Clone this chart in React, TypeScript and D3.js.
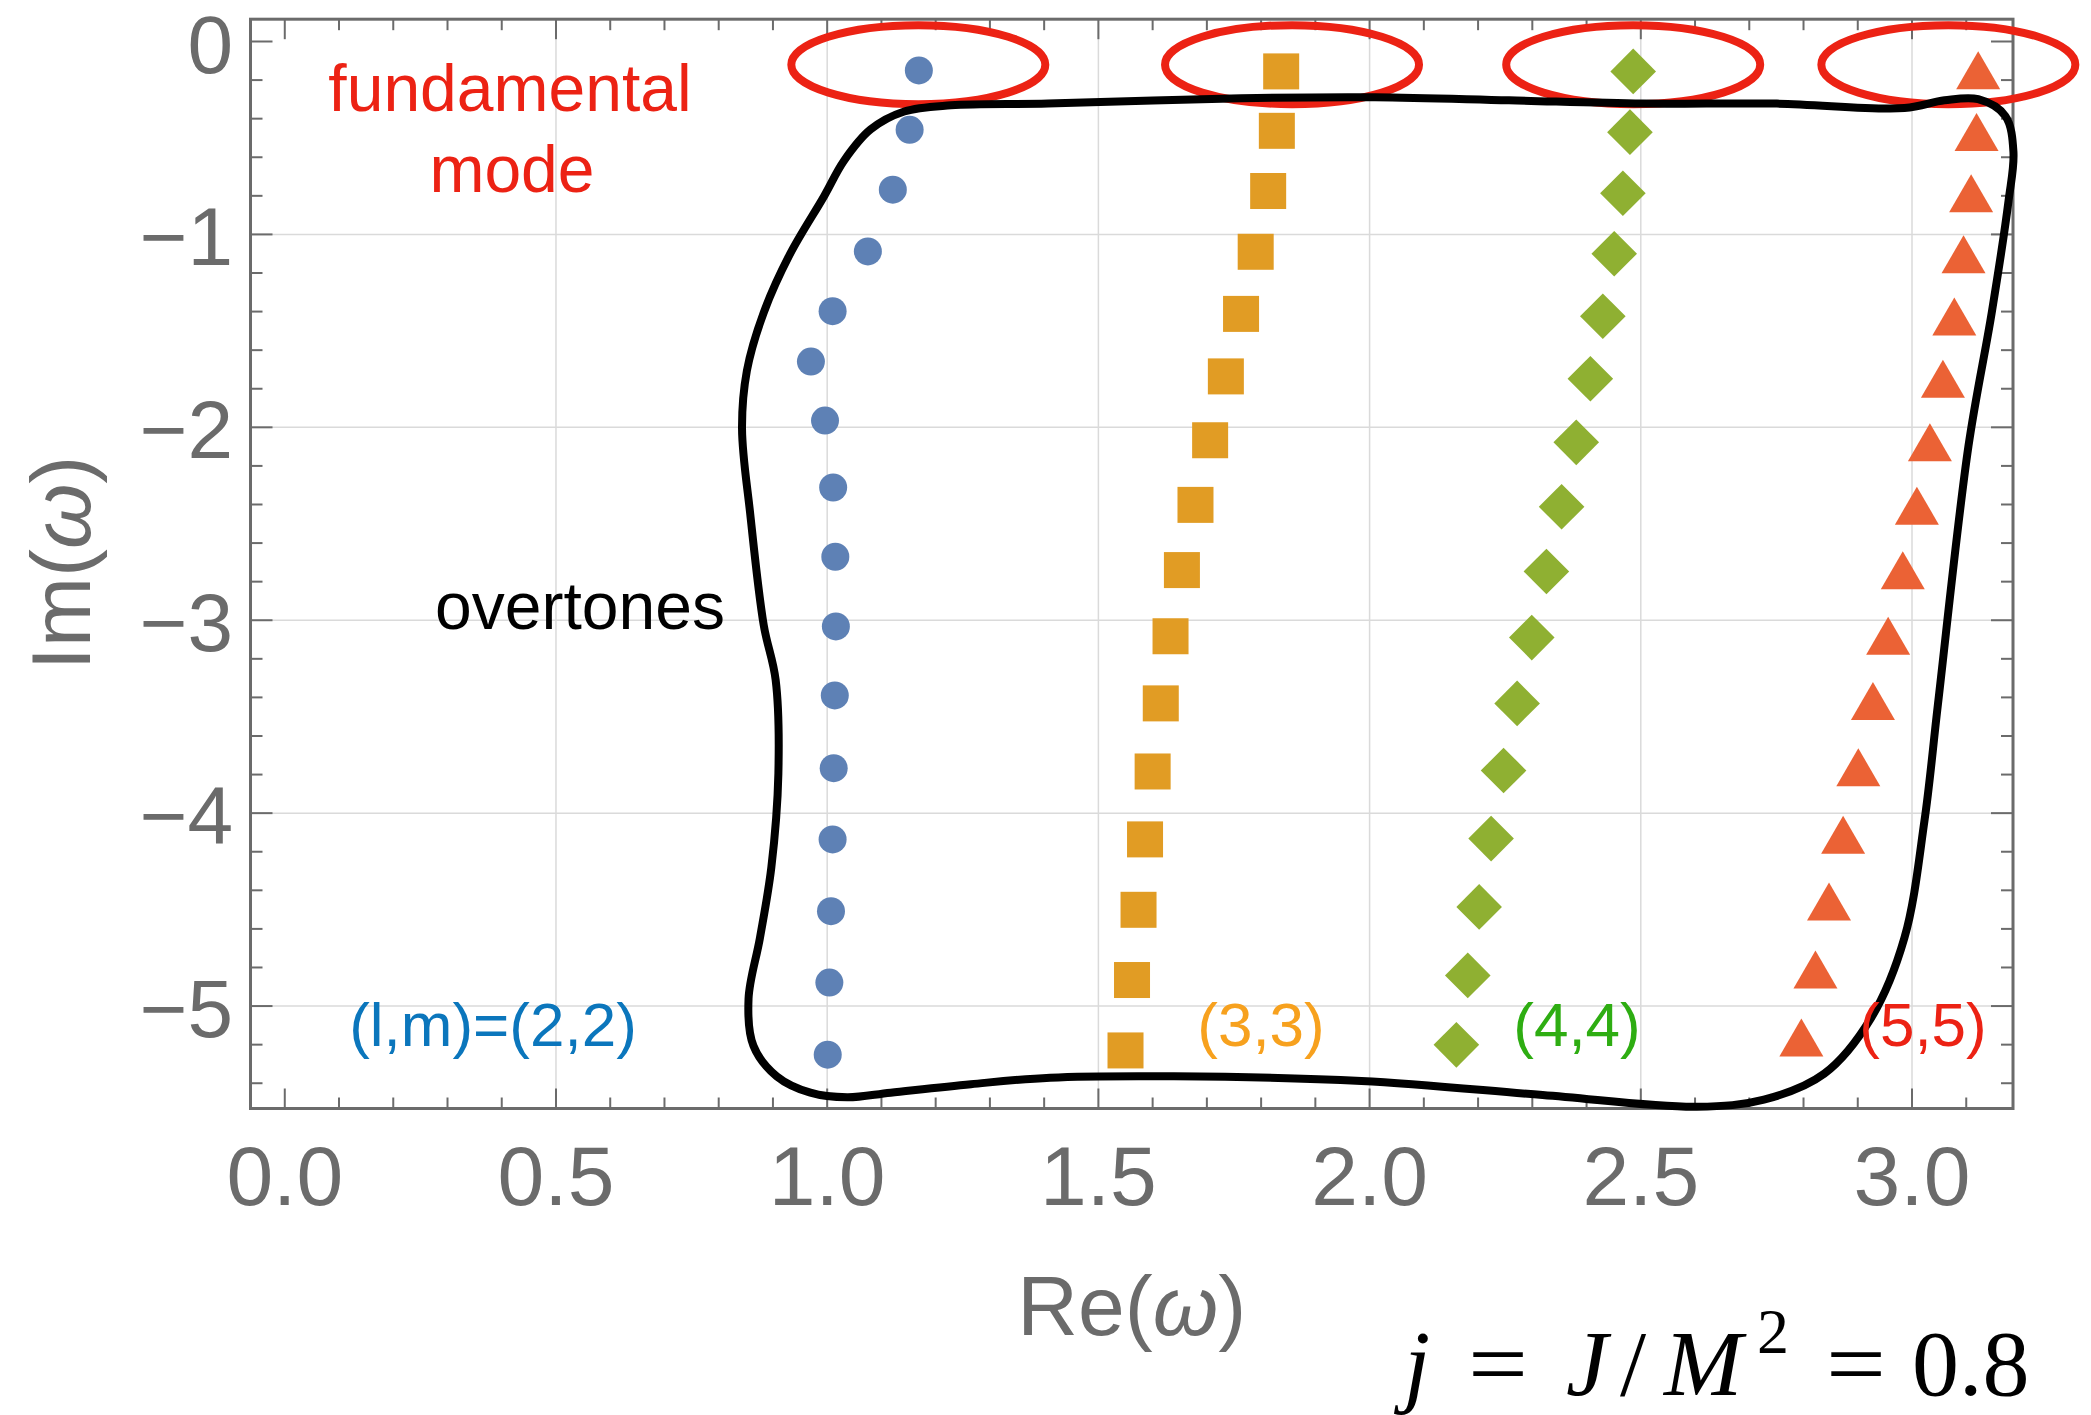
import React from "react";
import * as d3 from "d3";

// Quasinormal mode frequencies (units 2M = 1), j = 0.8, overtones n = 0..15
const re22 = [1.169, 1.152, 1.121, 1.075, 1.01, 0.97, 0.996, 1.011, 1.015, 1.016, 1.014, 1.012, 1.01, 1.007, 1.004, 1.001];
const im22 = [-0.15, -0.458, -0.768, -1.088, -1.398, -1.659, -1.965, -2.312, -2.671, -3.032, -3.39, -3.767, -4.136, -4.508, -4.878, -5.252];
const re33 = [1.837, 1.829, 1.813, 1.79, 1.763, 1.735, 1.706, 1.679, 1.654, 1.633, 1.615, 1.6, 1.586, 1.574, 1.562, 1.55];
const im33 = [-0.155, -0.463, -0.775, -1.09, -1.412, -1.736, -2.067, -2.402, -2.74, -3.083, -3.431, -3.784, -4.136, -4.501, -4.865, -5.23];
const re44 = [2.486, 2.48, 2.467, 2.451, 2.43, 2.407, 2.381, 2.354, 2.326, 2.299, 2.272, 2.247, 2.224, 2.202, 2.181, 2.16];
const im44 = [-0.155, -0.47, -0.787, -1.1, -1.424, -1.748, -2.078, -2.412, -2.747, -3.09, -3.431, -3.779, -4.132, -4.486, -4.841, -5.201];
const re55 = [3.122, 3.119, 3.109, 3.095, 3.078, 3.057, 3.033, 3.009, 2.983, 2.956, 2.928, 2.901, 2.873, 2.847, 2.822, 2.796];
const im55 = [-0.149, -0.469, -0.786, -1.103, -1.425, -1.748, -2.077, -2.406, -2.741, -3.081, -3.419, -3.762, -4.112, -4.458, -4.811, -5.163];

const xTicks = [0, 0.5, 1.0, 1.5, 2.0, 2.5, 3.0];
const yTicks = [0, -1, -2, -3, -4, -5];

// fundamental-mode highlight ellipses (centre in data units)
const ellipseRe = [1.168, 1.857, 2.486, 3.067];
const ellipseIm = -0.12;

// hand-drawn outline around the overtones (Re, Im)
const overtoneLoop: [number, number][] = [
  [1.407, -0.322], [1.228, -0.331], [1.142, -0.363], [1.08, -0.456], [1.031, -0.618],
  [0.994, -0.803], [0.931, -1.104], [0.883, -1.405], [0.852, -1.706], [0.843, -2.007],
  [0.858, -2.446], [0.883, -3.025], [0.905, -3.31], [0.91, -3.796], [0.897, -4.282],
  [0.876, -4.647], [0.855, -4.963], [0.864, -5.206], [0.907, -5.364], [0.969, -5.449],
  [1.037, -5.473], [1.117, -5.449], [1.265, -5.405], [1.411, -5.371], [1.639, -5.364],
  [1.985, -5.388], [2.319, -5.461], [2.603, -5.522], [2.727, -5.485], [2.838, -5.351],
  [2.925, -5.06], [2.986, -4.647], [3.023, -4.039], [3.048, -3.431], [3.104, -2.099],
  [3.147, -1.405], [3.178, -0.826], [3.187, -0.572], [3.172, -0.386], [3.122, -0.299],
  [3.06, -0.305], [2.986, -0.345], [2.751, -0.322], [2.504, -0.322], [2.257, -0.305],
  [2.01, -0.289], [1.763, -0.294],
];

const W = 2091;
const H = 1415;
const L = 250.5, R = 2013, T = 19.2, B = 1108.5;

const x = d3.scaleLinear().domain([-0.0632, 3.1862]).range([L, R]);
const y = d3.scaleLinear().domain([-5.531, 0.1156]).range([B, T]);

const axisColor = "#6b6b6b";
const gridColor = "#dadada";
const sans = "'Liberation Sans', Arial, Helvetica, sans-serif";
const serif = "'Liberation Serif', 'Times New Roman', serif";

const xMinor = d3.range(0, 3.15, 0.1);
const yMinor = d3.range(0, -5.45, -0.2);

const zip = (a: number[], b: number[]) => a.map((v, i) => [v, b[i]] as [number, number]);

export default function App() {
  const loopPath = d3
    .line<[number, number]>()
    .x((d) => x(d[0]))
    .y((d) => y(d[1]))
    .curve(d3.curveCatmullRomClosed.alpha(0.5))(overtoneLoop) as string;

  const sq = 36;
  const dia = 22.8;
  const triW = 44, triH = 38;

  return (
    <svg
      width={W}
      height={H}
      viewBox={`0 0 ${W} ${H}`}
      style={{ position: "absolute", left: 0, top: 0, background: "#fff" }}
    >
      <rect width={W} height={H} fill="#fff" />
      {/* grid */}
      {xTicks.filter((t) => t > 0).map((t) => (
        <line key={"gx" + t} x1={x(t)} x2={x(t)} y1={T} y2={B} stroke={gridColor} strokeWidth={1.5} />
      ))}
      {yTicks.filter((t) => t < 0).map((t) => (
        <line key={"gy" + t} x1={L} x2={R} y1={y(t)} y2={y(t)} stroke={gridColor} strokeWidth={1.5} />
      ))}

      {/* ticks */}
      {xMinor.map((t, i) => {
        const major = i % 5 === 0;
        const len = major ? 20 : 11;
        return (
          <g key={"tx" + i}>
            <line x1={x(t)} x2={x(t)} y1={B} y2={B - len} stroke={axisColor} strokeWidth={2} />
            <line x1={x(t)} x2={x(t)} y1={T} y2={T + len} stroke={axisColor} strokeWidth={2} />
          </g>
        );
      })}
      {yMinor.map((t, i) => {
        const major = i % 5 === 0;
        const len = major ? 22 : 12;
        return (
          <g key={"ty" + i}>
            <line x1={L} x2={L + len} y1={y(t)} y2={y(t)} stroke={axisColor} strokeWidth={2} />
            <line x1={R} x2={R - len} y1={y(t)} y2={y(t)} stroke={axisColor} strokeWidth={2} />
          </g>
        );
      })}
      <rect x={L} y={T} width={R - L} height={B - T} fill="none" stroke={axisColor} strokeWidth={3} />

      {/* tick labels */}
      {xTicks.map((t) => (
        <text key={"lx" + t} x={x(t)} y={1205} textAnchor="middle" fontFamily={sans} fontSize={84} fill={axisColor}>
          {t.toFixed(1)}
        </text>
      ))}
      {yTicks.map((t) => (
        <text key={"ly" + t} x={233} y={y(t) + 31} textAnchor="end" fontFamily={sans} fontSize={82} fill={axisColor}>
          {t === 0 ? "0" : "\u2212" + Math.abs(t)}
        </text>
      ))}

      {/* axis titles */}
      <text x={(L + R) / 2} y={1335} textAnchor="middle" fontFamily={sans} fontSize={84} fill={axisColor}>
        Re(<tspan fontStyle="italic">ω</tspan>)
      </text>
      <text
        transform={`translate(90, 563) rotate(-90)`}
        textAnchor="middle"
        fontFamily={sans}
        fontSize={84}
        fill={axisColor}
      >
        Im(<tspan fontStyle="italic">ω</tspan>)
      </text>

      {/* (2,2) circles */}
      {zip(re22, im22).map(([a, b], i) => (
        <circle key={"c" + i} cx={x(a)} cy={y(b)} r={14} fill="#5E81B5" />
      ))}
      {/* (3,3) squares */}
      {zip(re33, im33).map(([a, b], i) => (
        <rect key={"s" + i} x={x(a) - sq / 2} y={y(b) - sq / 2} width={sq} height={sq} fill="#E19C24" />
      ))}
      {/* (4,4) diamonds */}
      {zip(re44, im44).map(([a, b], i) => (
        <path
          key={"d" + i}
          transform={`translate(${x(a)},${y(b)})`}
          d={`M0,${-dia}L${dia},0L0,${dia}L${-dia},0Z`}
          fill="#8FB032"
        />
      ))}
      {/* (5,5) triangles */}
      {zip(re55, im55).map(([a, b], i) => (
        <path
          key={"t" + i}
          transform={`translate(${x(a)},${y(b)})`}
          d={`M0,${-triH / 2}L${triW / 2},${triH / 2}L${-triW / 2},${triH / 2}Z`}
          fill="#EB6235"
        />
      ))}

      {/* fundamental-mode ellipses */}
      {ellipseRe.map((c, i) => (
        <ellipse key={"e" + i} cx={x(c)} cy={y(ellipseIm)} rx={127} ry={39.5} fill="none" stroke="#EC2214" strokeWidth={8} />
      ))}

      {/* overtone outline */}
      <path d={loopPath} fill="none" stroke="#000" strokeWidth={8} strokeLinejoin="round" />

      {/* annotations */}
      <text x={510} y={111} textAnchor="middle" fontFamily={sans} fontSize={66} fill="#EC2214">fundamental</text>
      <text x={512} y={192} textAnchor="middle" fontFamily={sans} fontSize={66} fill="#EC2214">mode</text>
      <text x={580} y={629} textAnchor="middle" fontFamily={sans} fontSize={66} fill="#000">overtones</text>
      <text x={493} y={1046} textAnchor="middle" fontFamily={sans} fontSize={62} fill="#0B76BC">(l,m)=(2,2)</text>
      <text x={1261} y={1046} textAnchor="middle" fontFamily={sans} fontSize={62} fill="#F7A11E">(3,3)</text>
      <text x={1577} y={1046} textAnchor="middle" fontFamily={sans} fontSize={62} fill="#2EAD12">(4,4)</text>
      <text x={1923} y={1046} textAnchor="middle" fontFamily={sans} fontSize={62} fill="#EC2214">(5,5)</text>

      {/* spin parameter */}
      <g fontFamily={serif} fontSize={94} fill="#000">
        <text x={1404} y={1395} fontStyle="italic">j</text>
        <text x={1468} y={1395} textLength={60} lengthAdjust="spacingAndGlyphs">=</text>
        <text x={1566} y={1395} fontStyle="italic">J</text>
        <text x={1620} y={1395}>/</text>
        <text x={1664} y={1395} fontStyle="italic">M</text>
        <text x={1757} y={1353} fontSize={64}>2</text>
        <text x={1826} y={1395} textLength={60} lengthAdjust="spacingAndGlyphs">=</text>
        <text x={1912} y={1395}>0.8</text>
      </g>
    </svg>
  );
}
